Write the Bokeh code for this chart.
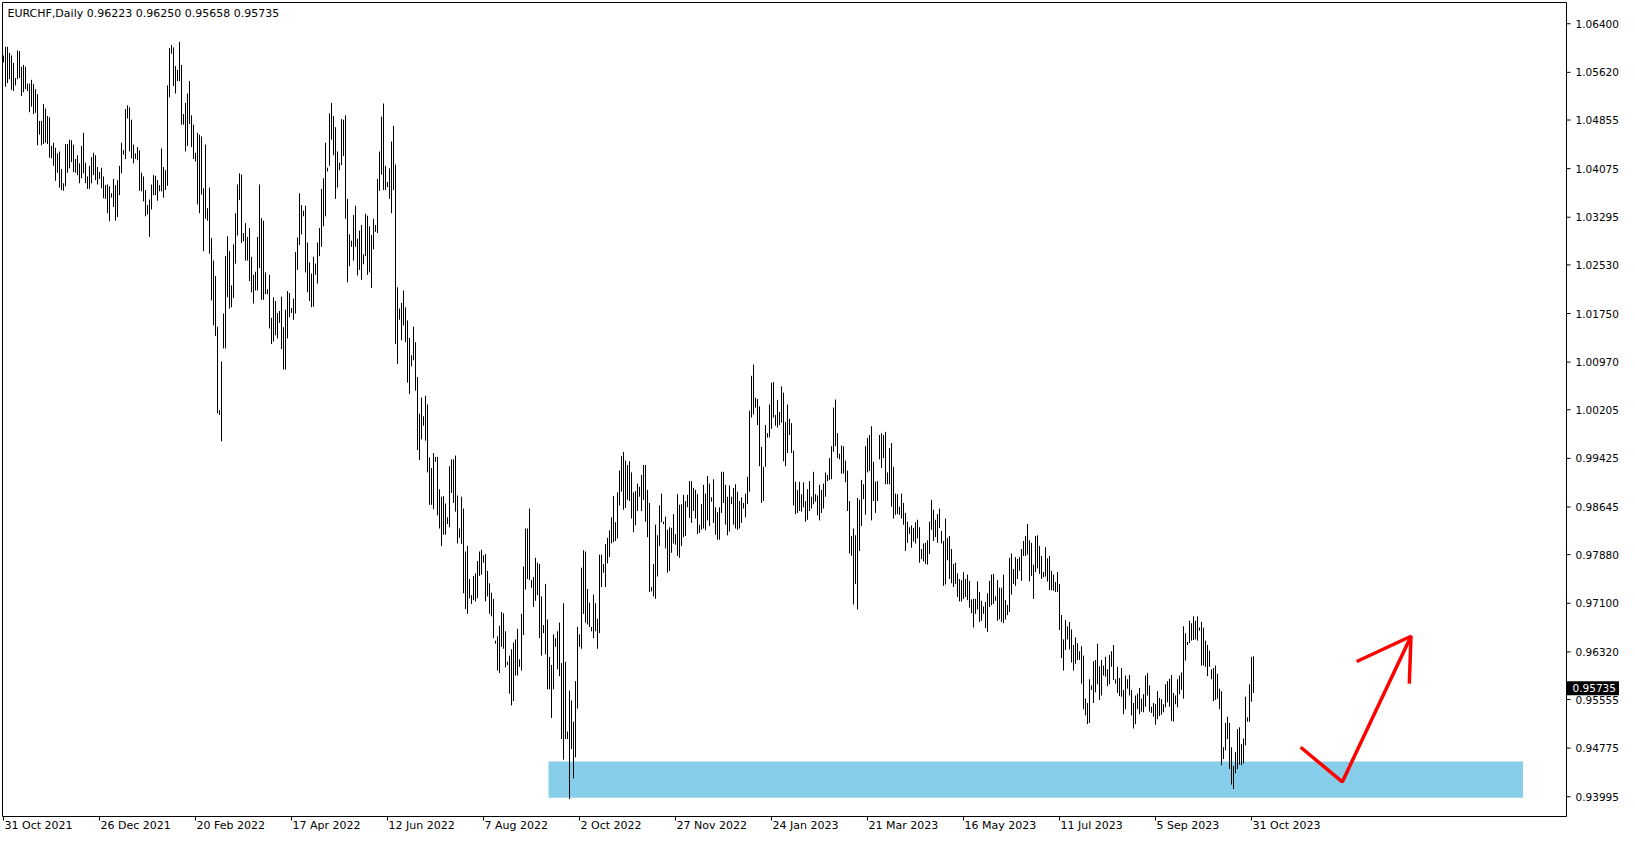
from bokeh.plotting import figure
from bokeh.models import ColumnDataSource, Range1d
from bokeh.core.properties import value
from bokeh.embed import file_html
from bokeh.resources import INLINE

# ---------------- data (prices in units of 0.0001 CHF) ----------------
symbol = "EURCHF,Daily"
last_ohlc = [0.96223, 0.96250, 0.95658, 0.95735]

high_pips = [
    10589, 10603, 10603, 10593, 10589, 10577, 10553, 10597, 10596, 10571,
    10574, 10571, 10544, 10544, 10550, 10543, 10535, 10527, 10484, 10484,
    10511, 10504, 10492, 10490, 10444, 10449, 10441, 10432, 10435, 10407,
    10384, 10447, 10447, 10454, 10453, 10446, 10423, 10429, 10416, 10444,
    10465, 10417, 10395, 10412, 10426, 10433, 10429, 10410, 10402, 10409,
    10395, 10381, 10382, 10379, 10368, 10391, 10381, 10389, 10412, 10449,
    10437, 10503, 10509, 10506, 10486, 10446, 10432, 10442, 10437, 10401,
    10395, 10373, 10349, 10358, 10382, 10397, 10396, 10389, 10381, 10440,
    10410, 10405, 10541, 10601, 10606, 10602, 10572, 10566, 10611, 10574,
    10495, 10513, 10528, 10548, 10493, 10478, 10433, 10465, 10462, 10459,
    10376, 10446, 10344, 10377, 10296, 10260, 10235, 10154, 10020, 10098,
    10175, 10267, 10299, 10275, 10220, 10286, 10336, 10382, 10400, 10398,
    10304, 10320, 10298, 10312, 10266, 10237, 10242, 10298, 10382, 10328,
    10324, 10241, 10214, 10237, 10168, 10201, 10195, 10176, 10179, 10202,
    10153, 10181, 10211, 10208, 10184, 10199, 10274, 10297, 10368, 10349,
    10340, 10348, 10289, 10257, 10239, 10266, 10255, 10289, 10312, 10375,
    10392, 10449, 10409, 10496, 10513, 10492, 10474, 10435, 10417, 10487,
    10486, 10493, 10359, 10302, 10292, 10333, 10348, 10295, 10308, 10317,
    10270, 10335, 10332, 10315, 10301, 10327, 10317, 10391, 10435, 10491,
    10512, 10412, 10386, 10408, 10451, 10476, 10414, 10217, 10183, 10192,
    10212, 10185, 10164, 10136, 10108, 10154, 10129, 10073, 10014, 10040,
    10010, 10043, 10029, 9944, 9927, 9951, 9945, 9945, 9893, 9881,
    9882, 9870, 9848, 9930, 9941, 9941, 9947, 9883, 9830, 9881,
    9862, 9793, 9802, 9749, 9723, 9754, 9758, 9778, 9793, 9796,
    9787, 9789, 9762, 9742, 9727, 9717, 9650, 9657, 9674, 9696,
    9694, 9665, 9616, 9626, 9636, 9647, 9652, 9669, 9620, 9693,
    9769, 9830, 9830, 9862, 9747, 9752, 9783, 9775, 9773, 9721,
    9675, 9741, 9684, 9624, 9611, 9660, 9654, 9665, 9679, 9614,
    9710, 9616, 9504, 9570, 9554, 9520, 9585, 9672, 9660, 9767,
    9795, 9793, 9733, 9711, 9672, 9724, 9710, 9685, 9788, 9788,
    9773, 9805, 9815, 9827, 9848, 9882, 9840, 9888, 9923, 9946,
    9953, 9939, 9932, 9938, 9920, 9888, 9890, 9902, 9897, 9916,
    9932, 9932, 9892, 9871, 9736, 9773, 9836, 9819, 9867, 9886,
    9841, 9849, 9828, 9832, 9831, 9853, 9821, 9885, 9868, 9869,
    9884, 9874, 9884, 9906, 9906, 9895, 9892, 9885, 9836, 9869,
    9900, 9886, 9914, 9902, 9880, 9909, 9864, 9856, 9864, 9921,
    9921, 9900, 9881, 9899, 9881, 9895, 9901, 9889, 9874, 9880,
    9871, 9886, 9913, 10019, 10075, 10093, 10040, 10038, 10026, 9961,
    9929, 9996, 9983, 10029, 10064, 10065, 10012, 10036, 10017, 10058,
    10048, 10001, 10029, 10006, 9999, 9955, 9905, 9892, 9905, 9885,
    9904, 9874, 9893, 9906, 9881, 9921, 9885, 9883, 9900, 9892,
    9902, 9920, 9916, 9943, 9962, 10024, 10037, 9983, 9950, 9963,
    9962, 9939, 9923, 9874, 9818, 9830, 9819, 9879, 9876, 9908,
    9901, 9962, 9975, 9980, 9994, 9937, 9905, 9906, 9980, 9983,
    9980, 9985, 9920, 9959, 9967, 9929, 9886, 9885, 9865, 9886,
    9871, 9855, 9841, 9832, 9835, 9831, 9840, 9844, 9832, 9797,
    9806, 9807, 9811, 9841, 9876, 9860, 9844, 9853, 9862, 9826,
    9810, 9846, 9815, 9818, 9797, 9773, 9775, 9758, 9749, 9747,
    9760, 9749, 9756, 9746, 9716, 9717, 9717, 9745, 9728, 9714,
    9705, 9712, 9726, 9746, 9756, 9757, 9721, 9747, 9735, 9735,
    9756, 9715, 9707, 9783, 9790, 9765, 9784, 9781, 9784, 9797,
    9810, 9818, 9837, 9811, 9807, 9772, 9818, 9819, 9802, 9786,
    9760, 9800, 9782, 9786, 9762, 9756, 9744, 9760, 9741, 9691,
    9652, 9683, 9673, 9680, 9668, 9643, 9655, 9646, 9633, 9641,
    9626, 9557, 9550, 9588, 9578, 9617, 9619, 9645, 9609, 9619,
    9610, 9624, 9604, 9627, 9633, 9643, 9588, 9608, 9590, 9606,
    9571, 9594, 9588, 9595, 9571, 9550, 9562, 9565, 9574, 9557,
    9564, 9594, 9598, 9578, 9544, 9550, 9548, 9569, 9558, 9556,
    9548, 9580, 9585, 9589, 9595, 9566, 9562, 9588, 9594, 9599,
    9673, 9662, 9648, 9682, 9678, 9689, 9682, 9689, 9671, 9680,
    9671, 9650, 9643, 9634, 9604, 9606, 9610, 9597, 9573, 9569,
    9479, 9518, 9528, 9518, 9479, 9449, 9471, 9508, 9511, 9484,
    9493, 9560, 9527, 9580, 9624, 9625,
]

low_pips = [
    10578, 10539, 10545, 10551, 10534, 10532, 10541, 10551, 10553, 10524,
    10530, 10535, 10532, 10498, 10507, 10495, 10497, 10445, 10462, 10445,
    10447, 10449, 10447, 10425, 10424, 10412, 10388, 10401, 10377, 10373,
    10372, 10379, 10401, 10408, 10418, 10402, 10401, 10397, 10384, 10392,
    10400, 10384, 10375, 10375, 10384, 10397, 10389, 10382, 10391, 10376,
    10360, 10359, 10336, 10323, 10361, 10346, 10324, 10330, 10365, 10400,
    10430, 10423, 10488, 10435, 10424, 10416, 10423, 10421, 10372, 10371,
    10355, 10331, 10334, 10298, 10342, 10365, 10365, 10356, 10371, 10371,
    10361, 10373, 10380, 10522, 10592, 10540, 10528, 10548, 10548, 10478,
    10478, 10435, 10444, 10479, 10442, 10423, 10419, 10350, 10336, 10366,
    10275, 10327, 10324, 10271, 10196, 10156, 10139, 10015, 10012, 9970,
    10119, 10119, 10201, 10183, 10185, 10200, 10255, 10300, 10357, 10288,
    10291, 10260, 10260, 10227, 10209, 10191, 10212, 10212, 10248, 10197,
    10197, 10206, 10206, 10151, 10126, 10130, 10140, 10135, 10160, 10118,
    10085, 10085, 10135, 10169, 10176, 10165, 10175, 10245, 10285, 10302,
    10331, 10241, 10209, 10195, 10185, 10186, 10237, 10223, 10267, 10282,
    10315, 10331, 10403, 10412, 10454, 10429, 10359, 10377, 10405, 10413,
    10428, 10327, 10225, 10251, 10282, 10260, 10282, 10236, 10245, 10229,
    10254, 10267, 10237, 10241, 10216, 10278, 10306, 10304, 10372, 10398,
    10373, 10373, 10378, 10359, 10336, 10373, 10126, 10094, 10165, 10132,
    10156, 10129, 10064, 10046, 10090, 10100, 10051, 9956, 9940, 9973,
    9995, 9971, 9920, 9868, 9868, 9861, 9937, 9851, 9830, 9802,
    9820, 9820, 9837, 9832, 9887, 9871, 9857, 9806, 9815, 9805,
    9726, 9701, 9693, 9718, 9709, 9715, 9713, 9718, 9754, 9756,
    9775, 9713, 9721, 9693, 9689, 9654, 9645, 9602, 9598, 9640,
    9637, 9607, 9611, 9565, 9546, 9553, 9594, 9594, 9608, 9602,
    9659, 9732, 9749, 9747, 9735, 9704, 9714, 9723, 9654, 9626,
    9662, 9628, 9572, 9572, 9526, 9572, 9640, 9604, 9593, 9492,
    9459, 9492, 9492, 9396, 9476, 9429, 9463, 9541, 9640, 9637,
    9693, 9679, 9676, 9672, 9665, 9654, 9665, 9637, 9662, 9736,
    9759, 9736, 9774, 9784, 9806, 9808, 9810, 9814, 9867, 9889,
    9860, 9863, 9876, 9874, 9846, 9824, 9835, 9858, 9881, 9858,
    9876, 9841, 9816, 9728, 9729, 9721, 9717, 9753, 9802, 9840,
    9837, 9798, 9759, 9762, 9791, 9806, 9804, 9786, 9783, 9802,
    9816, 9818, 9864, 9847, 9839, 9858, 9846, 9821, 9823, 9828,
    9830, 9827, 9843, 9834, 9873, 9839, 9820, 9812, 9812, 9855,
    9871, 9836, 9819, 9825, 9869, 9836, 9830, 9828, 9830, 9839,
    9862, 9848, 9869, 9889, 10008, 10013, 10024, 9996, 9930, 9871,
    9874, 9929, 9976, 9976, 9990, 10008, 9995, 9992, 9996, 10000,
    9938, 9930, 9951, 9980, 9951, 9867, 9853, 9855, 9858, 9857,
    9864, 9841, 9844, 9858, 9862, 9869, 9873, 9851, 9843, 9855,
    9862, 9881, 9906, 9908, 9909, 9953, 9962, 9943, 9941, 9918,
    9918, 9904, 9858, 9790, 9786, 9708, 9741, 9700, 9794, 9834,
    9877, 9852, 9920, 9922, 9843, 9874, 9855, 9874, 9941, 9927,
    9943, 9901, 9901, 9901, 9865, 9846, 9852, 9853, 9852, 9846,
    9836, 9794, 9807, 9821, 9799, 9809, 9806, 9814, 9775, 9781,
    9777, 9773, 9772, 9789, 9828, 9810, 9816, 9807, 9831, 9806,
    9738, 9740, 9779, 9749, 9742, 9736, 9741, 9720, 9713, 9713,
    9717, 9720, 9715, 9703, 9694, 9671, 9693, 9700, 9680, 9682,
    9693, 9670, 9664, 9704, 9707, 9709, 9714, 9682, 9684, 9680,
    9678, 9684, 9691, 9696, 9724, 9741, 9738, 9749, 9762, 9746,
    9786, 9786, 9788, 9745, 9754, 9717, 9760, 9766, 9757, 9749,
    9752, 9753, 9745, 9731, 9731, 9730, 9728, 9728, 9667, 9622,
    9602, 9635, 9652, 9636, 9615, 9602, 9613, 9619, 9619, 9581,
    9540, 9530, 9516, 9518, 9571, 9550, 9567, 9580, 9555, 9562,
    9594, 9592, 9577, 9580, 9608, 9587, 9581, 9566, 9561, 9560,
    9532, 9540, 9573, 9562, 9530, 9509, 9516, 9540, 9532, 9536,
    9535, 9544, 9562, 9536, 9534, 9528, 9515, 9524, 9529, 9531,
    9535, 9543, 9551, 9544, 9521, 9520, 9548, 9543, 9564, 9571,
    9557, 9618, 9643, 9646, 9650, 9651, 9652, 9650, 9666, 9610,
    9610, 9608, 9593, 9608, 9588, 9553, 9555, 9557, 9540, 9450,
    9460, 9474, 9492, 9444, 9419, 9412, 9437, 9444, 9451, 9450,
    9453, 9482, 9520, 9520, 9552, 9566,
]

date_tick_bars = [0, 48, 96, 144, 192, 240, 288, 336, 384, 432, 480, 528, 576, 624]
date_labels = ["31 Oct 2021", "26 Dec 2021", "20 Feb 2022", "17 Apr 2022",
               "12 Jun 2022", "7 Aug 2022", "2 Oct 2022", "27 Nov 2022",
               "24 Jan 2023", "21 Mar 2023", "16 May 2023", "11 Jul 2023",
               "5 Sep 2023", "31 Oct 2023"]
price_ticks = [1.06400, 1.05620, 1.04855, 1.04075, 1.03295, 1.02530, 1.01750,
               1.00970, 1.00205, 0.99425, 0.98645, 0.97880, 0.97100, 0.96320,
               0.95555, 0.94775, 0.93995]

# visible price window of the chart (top / bottom of the chart box)
chart_price_top = 1.06741
chart_price_bottom = 0.93678

# support zone (bar index range, price range)
zone_bars = [272.5, 759.75]
zone_prices = [0.93979, 0.94561]
# hand-drawn red arrow (bar index, price)
arrow_bars = [648.6, 669.4, 703.75]
arrow_prices = [0.94789, 0.94233, 0.96571]
head_bars = [676.6, 703.75, 702.9]
head_prices = [0.96165, 0.96571, 0.95810]

# ---------------- layout (pixels) ----------------
FONT = "DejaVu Sans"
FS = "11px"          # header and time labels
FS_PRICE = "10.5px"  # price scale labels
FIG_W, FIG_H = 1619, 834
BAR_PX = 2.0                 # one daily bar every 2 px
XS = -1.5                    # bar coordinate at the left canvas edge
BOX_L_PX, BOX_R_PX = 2.0, 1566.0
BOX_T_PX, BOX_B_PX = 2.0, 816.0
PPU = (BOX_B_PX - BOX_T_PX) / (chart_price_top - chart_price_bottom)
YT = chart_price_top + BOX_T_PX / PPU


def bx(px):
    return XS + px / BAR_PX


def py(pxy):
    return YT - pxy / PPU


box_left, box_right = bx(BOX_L_PX), bx(BOX_R_PX)
box_top, box_bottom = chart_price_top, chart_price_bottom

p = figure(width=FIG_W, height=FIG_H,
           x_range=Range1d(XS, XS + FIG_W / BAR_PX),
           y_range=Range1d(YT - FIG_H / PPU, YT),
           x_axis_location=None, y_axis_location=None,
           output_backend="svg", toolbar_location=None, min_border=0)
p.grid.visible = False
p.outline_line_color = None
p.background_fill_color = "white"
p.border_fill_color = "white"

# support zone
p.quad(left=[zone_bars[0]], right=[zone_bars[1]],
       bottom=[zone_prices[0]], top=[zone_prices[1]],
       fill_color="#87CEEB", line_color=None)

# price bars (high-low)
idx = list(range(len(high_pips)))
src = ColumnDataSource(dict(x=idx,
                            hi=[v / 10000.0 for v in high_pips],
                            lo=[v / 10000.0 for v in low_pips]))
p.segment(x0="x", y0="lo", x1="x", y1="hi", source=src,
          line_color="black", line_width=1)

# red arrow
p.line(arrow_bars, arrow_prices, line_color="#FF0000", line_width=3.5)
p.line(head_bars, head_prices, line_color="#FF0000", line_width=3.5)

# chart box
p.quad(left=[box_left], right=[box_right], top=[box_top], bottom=[box_bottom],
       fill_color=None, line_color="black", line_width=1)

# price scale (right)
tick_len = 4.0
p.segment(x0=[box_right] * len(price_ticks),
          x1=[box_right + tick_len / BAR_PX] * len(price_ticks),
          y0=price_ticks, y1=price_ticks, line_color="black", line_width=1)
p.text(x=[box_right + 9.0 / BAR_PX] * len(price_ticks), y=price_ticks,
       text=["%.5f" % t for t in price_ticks],
       text_font=value(FONT), text_font_size=value(FS_PRICE), text_color="black",
       text_align="left", text_baseline="middle")

# time scale (bottom)
p.segment(x0=date_tick_bars, x1=date_tick_bars,
          y0=[box_bottom] * len(date_tick_bars),
          y1=[box_bottom - tick_len / PPU] * len(date_tick_bars),
          line_color="black", line_width=1)
p.text(x=[t + 0.5 for t in date_tick_bars],
       y=[box_bottom - 9.0 / PPU] * len(date_tick_bars),
       text=date_labels,
       text_font=value(FONT), text_font_size=value(FS), text_color="black",
       text_align="left", text_baseline="middle")

# current price tag
last_close = last_ohlc[3]
p.quad(left=[box_right + 0.5 / BAR_PX], right=[bx(FIG_W)],
       top=[last_close + 7.0 / PPU], bottom=[last_close - 7.0 / PPU],
       fill_color="black", line_color=None)
p.text(x=[box_right + 6.0 / BAR_PX], y=[last_close], text=["%.5f" % last_close],
       text_font=value(FONT), text_font_size=value(FS_PRICE), text_color="white",
       text_align="left", text_baseline="middle")

# header
header = "%s  %.5f %.5f %.5f %.5f" % (symbol, *last_ohlc)
p.text(x=[bx(7.0)], y=[py(12.5)], text=[header],
       text_font=value(FONT), text_font_size=value(FS), text_color="black",
       text_align="left", text_baseline="middle")

open("out.html", "w").write(file_html(p, INLINE))
